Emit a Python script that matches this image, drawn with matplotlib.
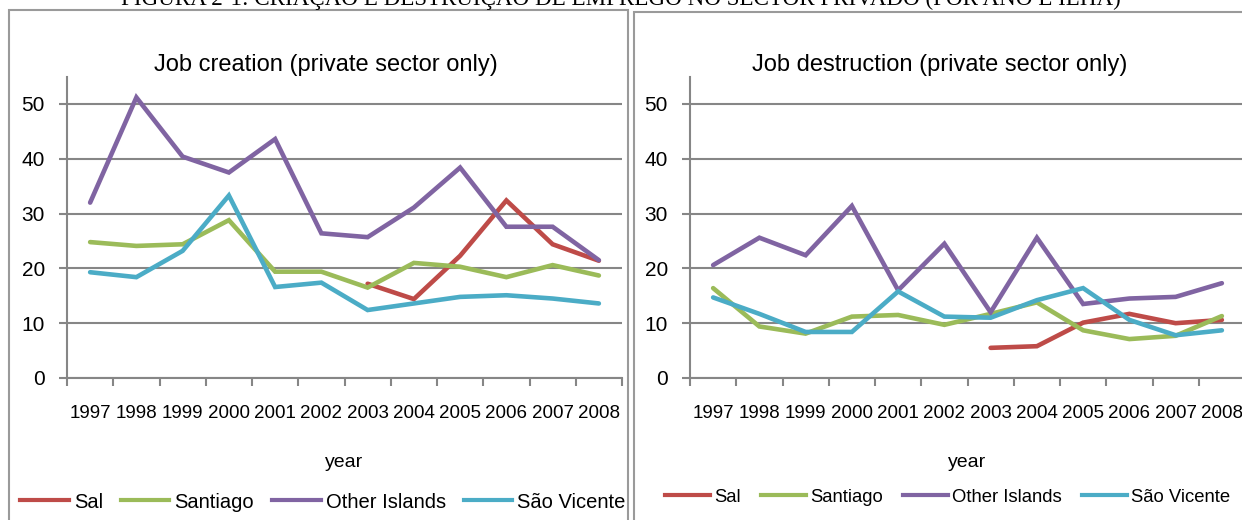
import matplotlib
matplotlib.use("Agg")
import matplotlib.pyplot as plt
from matplotlib.patches import Rectangle
from matplotlib.lines import Line2D
import numpy as np

nan = np.nan

years = ["1997", "1998", "1999", "2000", "2001", "2002",
         "2003", "2004", "2005", "2006", "2007", "2008"]
series_names = ["Sal", "Santiago", "Other Islands", "São Vicente"]
colors = ["#BE4B48", "#9BBB59", "#8064A2", "#4BACC6"]

# job creation (private sector only)
creation_sal = [nan, nan, nan, nan, nan, nan, 17.2, 14.4, 22.3, 32.4, 24.4, 21.4]
creation_santiago = [24.8, 24.1, 24.4, 28.8, 19.4, 19.4, 16.5, 21.0, 20.3, 18.4, 20.6, 18.7]
creation_other = [32.0, 51.2, 40.4, 37.5, 43.6, 26.4, 25.7, 31.1, 38.4, 27.6, 27.6, 21.5]
creation_sv = [19.3, 18.4, 23.2, 33.3, 16.6, 17.4, 12.4, 13.6, 14.8, 15.1, 14.5, 13.6]

# job destruction (private sector only)
destruction_sal = [nan, nan, nan, nan, nan, nan, 5.5, 5.8, 10.1, 11.7, 10.0, 10.6]
destruction_santiago = [16.4, 9.4, 8.1, 11.2, 11.5, 9.7, 11.7, 13.8, 8.7, 7.1, 7.7, 11.3]
destruction_other = [20.6, 25.6, 22.4, 31.4, 16.0, 24.5, 12.0, 25.6, 13.5, 14.5, 14.8, 17.3]
destruction_sv = [14.7, 11.7, 8.4, 8.4, 15.8, 11.2, 11.0, 14.2, 16.4, 10.6, 7.8, 8.7]

FONT = "Liberation Sans"
GRAY = "#868686"
W, H = 1242, 520

fig = plt.figure(figsize=(12.42, 5.2), dpi=100)

# panel frames
fig.patches.append(Rectangle((9 / W, -0.1), 619 / W, 1.1 - 10 / H,
                             transform=fig.transFigure, fill=False,
                             edgecolor="#9a9a9a", lw=1.5))
fig.patches.append(Rectangle((634 / W, -0.1), 0.6, 1.1 - 12 / H,
                             transform=fig.transFigure, fill=False,
                             edgecolor="#9a9a9a", lw=1.5))

# caption, cut off at the top edge like in the source page
fig.text(621 / W, 1 - 5 / H,
         "FIGURA 2-1: CRIAÇÃO E DESTRUIÇÃO DE EMPREGO NO SECTOR PRIVADO (POR ANO E ILHA)",
         ha="center", va="baseline", fontsize=16.6, family="Liberation Serif")


def draw_panel(left, title, title_x, data, legend_x, legend_y, legend_font, colspace):
    ax = fig.add_axes([left, 0.2731, 555 / W, 0.5796])
    x = np.arange(len(years))
    for vals, c in zip(data, colors):
        ax.plot(x, vals, color=c, lw=3.3, solid_capstyle="round",
                solid_joinstyle="miter")
    ax.set_xlim(-0.5, 11.5)
    ax.set_ylim(0, 55)
    ax.set_yticks(range(0, 60, 10))
    ax.set_yticklabels([str(v) for v in range(0, 60, 10)],
                       fontsize=15, family=FONT)
    ax.set_xticks(x)
    ax.set_xticklabels(years, fontsize=13.5, family=FONT)
    ax.set_xticks(np.arange(-0.5, 12, 1), minor=True)
    ax.tick_params(axis="x", which="major", length=0, pad=19.5)
    ax.tick_params(axis="x", which="minor", length=6, width=1.5,
                   color=GRAY, direction="out")
    ax.tick_params(axis="y", length=6, width=1.5, color=GRAY, pad=10)
    ax.grid(axis="y", color=GRAY, lw=1.5)
    ax.set_axisbelow(True)
    for s in ("top", "right"):
        ax.spines[s].set_visible(False)
    for s in ("left", "bottom"):
        ax.spines[s].set_color(GRAY)
        ax.spines[s].set_linewidth(1.5)
    ax.set_xlabel("year", fontsize=14, family=FONT, labelpad=23)
    fig.text(title_x, 1 - 65 / H, title, ha="center", va="center",
             fontsize=17, family=FONT)
    handles = [Line2D([], [], color=c, lw=3) for c in colors]
    fig.legend(handles, series_names, loc="center",
               bbox_to_anchor=(legend_x / W, 1 - legend_y / H), ncol=4,
               frameon=False, prop={"family": FONT, "size": legend_font},
               handlelength=2.4, columnspacing=colspace, handletextpad=0.25,
               borderpad=0, borderaxespad=0)
    return ax


draw_panel(67 / W, "Job creation (private sector only)", 326 / W,
           [creation_sal, creation_santiago, creation_other, creation_sv],
           323, 502, 14.5, 0.9)
draw_panel(690 / W, "Job destruction (private sector only)", 940 / W,
           [destruction_sal, destruction_santiago, destruction_other,
            destruction_sv],
           948, 497, 13.3, 1.1)

fig.savefig("out.png", dpi=100)
